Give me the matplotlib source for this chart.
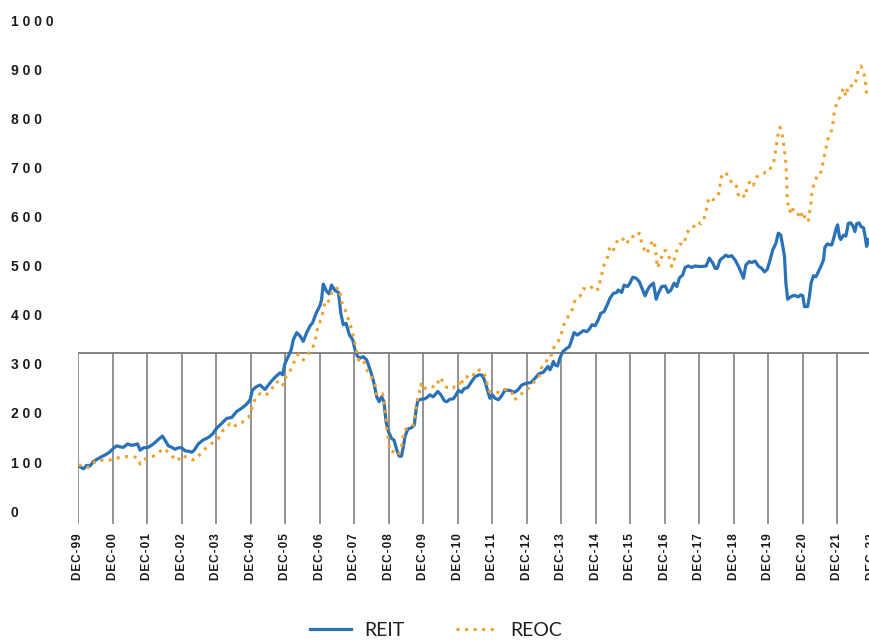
import matplotlib
matplotlib.use("Agg")
import matplotlib.pyplot as plt

# years since Dec-1999
reit_t = [0.00, 0.08, 0.15, 0.24, 0.34, 0.44, 0.53, 0.68, 0.82, 0.92, 1.02, 1.11, 1.21, 1.31, 1.43, 1.53, 1.62, 1.72, 1.79, 1.89,
          2.03, 2.18, 2.32, 2.44, 2.51, 2.61, 2.71, 2.80, 2.90, 3.00, 3.09, 3.19, 3.29, 3.36, 3.48, 3.62, 3.77, 3.89, 4.01, 4.16,
          4.30, 4.45, 4.59, 4.74, 4.88, 4.98, 5.05, 5.17, 5.27, 5.41, 5.51, 5.61, 5.75, 5.85, 5.92, 5.99, 6.09, 6.17, 6.23, 6.33,
          6.43, 6.52, 6.62, 6.72, 6.79, 6.89, 7.01, 7.05, 7.10, 7.20, 7.27, 7.34, 7.44, 7.54, 7.61, 7.68, 7.76, 7.86, 7.95, 8.02,
          8.09, 8.17, 8.26, 8.36, 8.46, 8.55, 8.65, 8.72, 8.79, 8.86, 8.92, 8.99, 9.08, 9.15, 9.23, 9.30, 9.37, 9.42, 9.47, 9.55,
          9.66, 9.74, 9.79, 9.84, 9.93, 10.05, 10.13, 10.19, 10.29, 10.42, 10.51, 10.61, 10.68, 10.77, 10.87, 10.94, 11.02, 11.11,
          11.19, 11.29, 11.38, 11.50, 11.62, 11.71, 11.79, 11.87, 11.93, 12.00, 12.08, 12.18, 12.27, 12.37, 12.51, 12.64, 12.74,
          12.85, 13.00, 13.12, 13.24, 13.35, 13.48, 13.61, 13.67, 13.72, 13.77, 13.82, 13.89, 13.96, 14.04, 14.16, 14.23, 14.30,
          14.37, 14.47, 14.56, 14.64, 14.74, 14.81, 14.89, 14.98, 15.07, 15.14, 15.24, 15.34, 15.41, 15.51, 15.61, 15.65, 15.75,
          15.82, 15.92, 15.99, 16.07, 16.17, 16.26, 16.36, 16.43, 16.50, 16.57, 16.67, 16.75, 16.81, 16.91, 17.01, 17.10, 17.17,
          17.27, 17.35, 17.42, 17.52, 17.59, 17.68, 17.78, 17.88, 17.97, 18.10, 18.20, 18.29, 18.39, 18.46, 18.52, 18.60, 18.70,
          18.77, 18.84, 18.94, 19.04, 19.13, 19.23, 19.28, 19.35, 19.45, 19.52, 19.62, 19.71, 19.81, 19.89, 19.97, 20.05, 20.13,
          20.22, 20.29, 20.36, 20.42, 20.47, 20.51, 20.56, 20.63, 20.73, 20.80, 20.87, 20.94, 21.00, 21.05, 21.14, 21.19, 21.24,
          21.31, 21.38, 21.45, 21.53, 21.60, 21.64, 21.71, 21.79, 21.84, 21.91, 21.96, 22.01, 22.06, 22.10, 22.18, 22.25, 22.32,
          22.39, 22.45, 22.51, 22.56, 22.63, 22.69, 22.76, 22.80, 22.85, 22.90]
reit_v = [92, 89, 86, 93, 92, 101, 105, 111, 116, 121, 128, 133, 131, 130, 137, 134, 135, 137, 124, 129,
          130, 137, 146, 153, 145, 133, 130, 126, 129, 129, 123, 122, 120, 124, 137, 145, 150, 157, 169, 179,
          189, 191, 203, 210, 218, 227, 247, 254, 257, 248, 257, 266, 276, 282, 278, 301, 316, 329, 349, 364,
          357, 346, 364, 378, 384, 403, 420, 431, 463, 448, 443, 461, 450, 446, 403, 380, 383, 359, 350, 329,
          316, 312, 315, 308, 288, 267, 233, 223, 233, 223, 182, 162, 148, 145, 125, 112, 112, 131, 152, 167,
          170, 176, 206, 225, 228, 229, 233, 237, 233, 244, 237, 225, 223, 228, 229, 236, 246, 242,
          250, 252, 262, 274, 278, 277, 264, 244, 230, 237, 230, 227, 235, 247, 246, 242, 247,
          257, 261, 262, 271, 280, 283, 295, 288, 295, 305, 298, 296, 312, 325, 332, 335, 349,
          364, 359, 364, 368, 366, 371, 380, 378, 390, 403, 407, 422, 434, 444, 446, 451, 446,
          461, 458, 465, 477, 475, 468, 451, 439, 451, 459, 465, 432, 444, 458, 459, 446, 450,
          465, 458, 475, 482, 497, 500, 497, 500, 499, 499, 500, 516, 506, 495, 495, 512, 518,
          522, 519, 521, 512, 500, 484, 475, 502, 509, 507, 510, 500, 495, 488, 493, 512, 533,
          546, 567, 563, 540, 519, 465, 432, 436, 440, 439, 437, 441, 439, 417, 417, 437, 465,
          480, 478, 488, 500, 512, 538, 545, 543, 543, 560, 575, 584, 560, 554, 563, 561, 587,
          588, 582, 570, 586, 588, 580, 578, 563, 540, 554]

reoc_t = [0.00, 0.15, 0.29, 0.39, 0.48, 0.63, 0.77, 0.92, 1.06, 1.21, 1.35, 1.50, 1.64, 1.74, 1.79, 1.89, 2.03, 2.18, 2.32, 2.46,
          2.56, 2.71, 2.80, 2.90, 3.00, 3.09, 3.24, 3.33, 3.43, 3.53, 3.72, 3.87, 4.06, 4.20, 4.35, 4.40, 4.49, 4.64, 4.74, 4.83,
          4.93, 5.00, 5.07, 5.17, 5.29, 5.36, 5.44, 5.54, 5.61, 5.68, 5.80, 5.87, 5.94, 6.02, 6.12, 6.20, 6.28, 6.38, 6.45, 6.52,
          6.65, 6.78, 6.86, 6.94, 7.04, 7.10, 7.15, 7.22, 7.30, 7.36, 7.44, 7.54, 7.59, 7.63, 7.71, 7.78, 7.83, 7.88, 7.95, 7.99,
          8.05, 8.12, 8.18, 8.26, 8.31, 8.38, 8.44, 8.50, 8.57, 8.62, 8.65, 8.75, 8.82, 8.86, 8.90, 8.94, 8.99, 9.03, 9.18, 9.28,
          9.37, 9.45, 9.57, 9.64, 9.71, 9.76, 9.79, 9.83, 9.88, 9.93, 10.00, 10.08, 10.17, 10.24, 10.34, 10.42, 10.50, 10.59,
          10.68, 10.77, 10.87, 10.94, 11.02, 11.09, 11.16, 11.26, 11.35, 11.45, 11.55, 11.62, 11.71, 11.77, 11.82, 11.87, 11.91,
          11.98, 12.06, 12.16, 12.25, 12.35, 12.47, 12.56, 12.63, 12.71, 12.80, 12.88, 12.97, 13.05, 13.12, 13.22, 13.34, 13.43,
          13.55, 13.63, 13.72, 13.80, 13.89, 13.96, 14.01, 14.06, 14.14, 14.23, 14.30, 14.35, 14.40, 14.48, 14.56, 14.64, 14.74,
          14.83, 14.91, 15.01, 15.10, 15.12, 15.17, 15.24, 15.34, 15.36, 15.43, 15.51, 15.59, 15.65, 15.75, 15.85, 15.92, 16.02,
          16.09, 16.19, 16.26, 16.31, 16.38, 16.45, 16.52, 16.60, 16.69, 16.72, 16.77, 16.78, 16.84, 16.91, 16.96, 17.04, 17.10,
          17.15, 17.20, 17.25, 17.30, 17.36, 17.44, 17.54, 17.59, 17.64, 17.71, 17.81, 17.88, 17.95, 18.04, 18.12, 18.19, 18.23,
          18.29, 18.39, 18.46, 18.55, 18.58, 18.63, 18.70, 18.79, 18.89, 18.97, 19.06, 19.13, 19.23, 19.31, 19.39, 19.47, 19.57,
          19.66, 19.76, 19.84, 19.91, 20.00, 20.08, 20.15, 20.19, 20.22, 20.26, 20.29, 20.34, 20.41, 20.44, 20.46, 20.49, 20.51,
          20.52, 20.53, 20.535, 20.54, 20.55, 20.58, 20.63, 20.68, 20.75, 20.84, 20.92, 21.00, 21.05, 21.09, 21.16, 21.19, 21.23,
          21.26, 21.33, 21.42, 21.50, 21.55, 21.60, 21.64, 21.69, 21.74, 21.84, 21.87, 21.89, 21.93, 22.01, 22.08, 22.18, 22.25,
          22.29, 22.35, 22.45, 22.51, 22.56, 22.61, 22.68, 22.76, 22.80, 22.83, 22.85, 22.90]
reoc_v = [94, 92, 89, 91, 101, 105, 102, 104, 109, 108, 111, 111, 110, 108, 96, 104, 110, 112, 118, 128,
          123, 114, 103, 105, 114, 111, 108, 104, 107, 116, 130, 138, 148, 165, 175, 178, 171, 179, 180, 187,
          191, 199, 220, 235, 240, 239, 236, 244, 248, 262, 264, 266, 257, 274, 282, 296, 308, 320, 316, 308,
          320, 330, 346, 375, 392, 409, 427, 424, 434, 451, 452, 456, 443, 427, 414, 403, 391, 380, 363, 349,
          332, 308, 308, 310, 298, 286, 282, 274, 261, 254, 236, 236, 239, 223, 206, 169, 144, 123, 120, 114,
          131, 165, 170, 172, 176, 193, 212, 227, 238, 259, 246, 252, 255, 255, 252, 262, 273, 259,
          252, 252, 250, 262, 262, 254, 273, 273, 281, 278, 278, 288, 286, 281, 267, 255, 244,
          244, 242, 242, 242, 248, 247, 244, 227, 230, 233, 242, 248, 250, 254, 264, 271, 293,
          301, 318, 318, 337, 344, 352, 364, 378, 388, 402, 407, 418, 431, 434, 440, 454, 452,
          452, 459, 451, 454, 468, 482, 502, 518, 529, 541, 533, 546, 555, 552, 559, 549, 550,
          563, 561, 567, 553, 538, 525, 531, 545, 552, 538, 507, 496, 505, 519, 531, 531, 525,
          511, 499, 509, 519, 535, 545, 543, 554, 567, 575, 576, 586, 590, 586, 593, 609, 627,
          640, 635, 637, 643, 655, 679, 691, 688, 676, 667, 667, 645, 650, 640, 659, 674, 665,
          682, 684, 686, 691, 691, 701, 710, 725, 740, 757, 771, 783, 765, 752, 738, 725, 710,
          696, 681, 665, 652, 636, 621, 611, 622, 609, 609, 597, 611, 601, 590, 593, 608, 621,
          648, 669, 684, 685, 699, 716, 731, 746, 761, 778, 790, 805, 818, 839, 844, 863, 846,
          859, 870, 866, 869, 885, 900, 908, 899, 882, 866, 850, 848]

year_ticks = list(range(0, 24))
year_labels = ["DEC-99", "DEC-00", "DEC-01", "DEC-02", "DEC-03", "DEC-04", "DEC-05", "DEC-06",
               "DEC-07", "DEC-08", "DEC-09", "DEC-10", "DEC-11", "DEC-12", "DEC-13", "DEC-14",
               "DEC-15", "DEC-16", "DEC-17", "DEC-18", "DEC-19", "DEC-20", "DEC-21", "DEC-22"]
y_ticks = [0, 100, 200, 300, 400, 500, 600, 700, 800, 900, 1000]
box_top = 322

W, H = 869, 640
fig = plt.figure(figsize=(W / 100, H / 100), dpi=100)
px_per_year = 34.5
x_right = 23.25
ax = fig.add_axes([78.3 / W, (H - 524) / H, x_right * px_per_year / W, (524 - 16) / H])
ax.set_xlim(0, x_right)
ax.set_ylim(-26.5, 1010)

grid_c = "#8a8a8a"
ax.vlines(year_ticks, -26.5, box_top, colors=grid_c, linewidth=1.3, zorder=1)
ax.hlines(box_top, 0, x_right, colors="#7a7a7a", linewidth=1.3, zorder=1)

ax.plot(reit_t, reit_v, color="#2a72b5", linewidth=2.3, label="REIT", zorder=3,
        solid_joinstyle="round")
ax.plot(reoc_t, reoc_v, color="#f0a12c", linewidth=2.2, linestyle=(0, (1, 1.8)),
        label="REOC", zorder=4)

for s in ax.spines.values():
    s.set_visible(False)

tick_font = dict(family=["Liberation Sans", "DejaVu Sans"], weight="bold")
ax.set_xticks(year_ticks)
ax.set_xticklabels(["\u200a".join(lbl) for lbl in year_labels], rotation=90,
                   fontsize=8.5, color="#1a1a1a", **tick_font)
ax.tick_params(axis="x", length=0, pad=6.5)

ax.set_yticks(y_ticks)
ax.set_yticklabels([" ".join(str(v)) for v in y_ticks], fontsize=10,
                   color="#1a1a1a", **tick_font)
ax.tick_params(axis="y", length=0, pad=48.5)
for lbl in ax.get_yticklabels():
    lbl.set_horizontalalignment("left")

leg = fig.legend(loc="center", bbox_to_anchor=(436 / W, 1 - 630 / H),
                 bbox_transform=fig.transFigure, ncol=2, frameon=False,
                 handlelength=2.1, handletextpad=0.7, columnspacing=2.6,
                 borderpad=0, borderaxespad=0,
                 prop=dict(family=["Lato", "DejaVu Sans"], weight="normal", size=14))
for t in leg.get_texts():
    t.set_color("#1e1e1e")

fig.savefig("out.png", dpi=100)
